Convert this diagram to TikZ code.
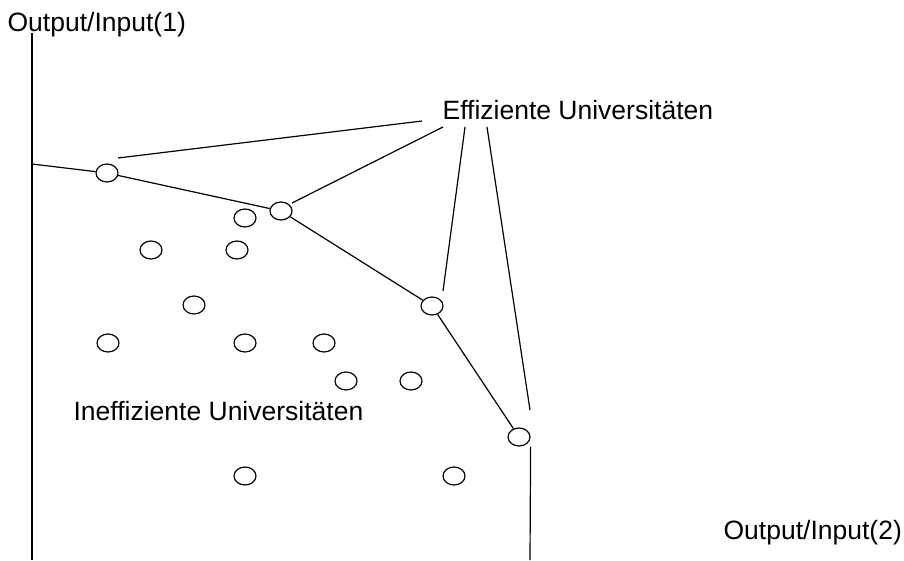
\documentclass[tikz,border=0pt]{standalone}
\usepackage{fontspec}
\setmainfont{Liberation Sans}
\usetikzlibrary{shapes.geometric}
\begin{document}
\begin{tikzpicture}[x=1pt,y=-1pt,line width=1.2pt,
  uni/.style={ellipse,draw,minimum width=22pt,minimum height=18pt,inner sep=0pt},
  lbl/.style={anchor=base west,inner sep=0pt,font=\fontsize{26.5}{30}\selectfont}]
\useasboundingbox (0,0) rectangle (904,560);
% labels
\node[lbl] (yl) at (7,31) {Output/Input(1)};
\node[lbl] (xl) at (723,539) {Output/Input(2)};
\node[lbl] (eff) at (442,119) {Effiziente Universitäten};
\node[lbl] (ineff) at (73,420) {Ineffiziente Universitäten};
% axis
\coordinate (ytop) at (32,33);
\coordinate (ybot) at (32,560);
\coordinate (f0) at (32,164);
\coordinate (fend) at (530,560);
\draw (ytop) -- (ybot);
% efficient universities
\node[uni] (e1) at (107,173) {};
\node[uni] (e2) at (281,211) {};
\node[uni] (e3) at (432,306) {};
\node[uni] (e4) at (519,437) {};
\draw (f0) -- (e1) -- (e2) -- (e3) -- (e4);
\draw (e4.south -| e4.east) -- (fend);
% inefficient universities
\node[uni] (i1) at (245,218) {};
\node[uni] (i2) at (151,250) {};
\node[uni] (i3) at (237,250) {};
\node[uni] (i4) at (194,305) {};
\node[uni] (i5) at (108,343) {};
\node[uni] (i6) at (245,343) {};
\node[uni] (i7) at (324,343) {};
\node[uni] (i8) at (346,381) {};
\node[uni] (i9) at (411,381) {};
\node[uni] (i10) at (245,476) {};
\node[uni] (i11) at (454,476) {};
% leader lines
\coordinate (a1) at (118,158);
\coordinate (b1) at (422,121);
\coordinate (a2) at (292,203);
\coordinate (b2) at (443,127);
\coordinate (a3) at (443,291);
\coordinate (b3) at (465,127);
\coordinate (a4) at (530,410);
\coordinate (b4) at (487,127);
\draw (a1) -- (b1);
\draw (a2) -- (b2);
\draw (a3) -- (b3);
\draw (a4) -- (b4);
\end{tikzpicture}
\end{document}
